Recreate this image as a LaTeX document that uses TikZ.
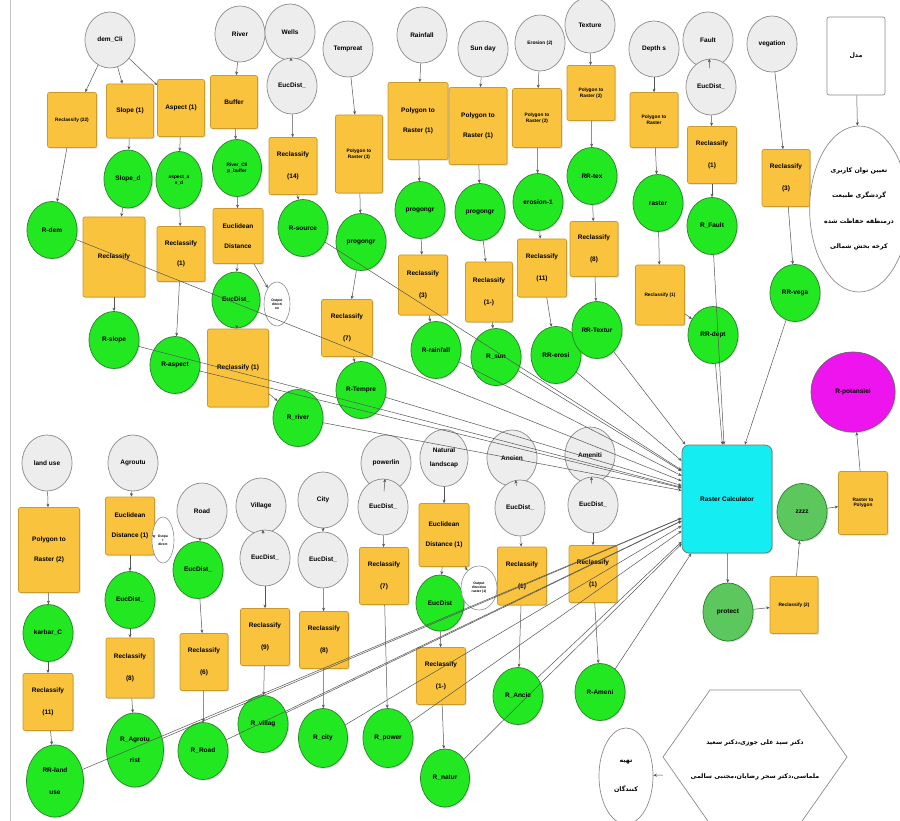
\documentclass[tikz,border=0pt]{standalone}
\usepackage{fontspec}
\setsansfont{Liberation Sans}
\newfontfamily\fa[Script=Arabic]{DejaVu Sans}
\TeXXeTstate=1
\usetikzlibrary{arrows.meta,shapes.geometric,shadows}
\definecolor{gfill}{HTML}{EDEDED}
\definecolor{gdraw}{HTML}{8C8C8C}
\definecolor{ofill}{HTML}{F9C33D}
\definecolor{odraw}{HTML}{C99A2E}
\definecolor{grfill}{HTML}{22E822}
\definecolor{grdraw}{HTML}{2E7F2E}
\definecolor{mgfill}{HTML}{5CC75C}
\definecolor{cyfill}{HTML}{14EEF2}
\definecolor{mafill}{HTML}{EE14EE}
\definecolor{edgec}{HTML}{555555}
\newcommand\labbig{\fontsize{6.5}{7.5}\selectfont\sffamily\bfseries}
\newcommand\labsmall{\fontsize{4.8}{5.6}\selectfont\sffamily\bfseries}
\newcommand\labtiny{\fontsize{3.4}{4}\selectfont\sffamily\bfseries}
\begin{document}
\begin{tikzpicture}[x=1pt,y=-1pt,
  wh/.style 2 args={minimum width=#1pt, minimum height=#2pt},
  shad/.style={drop shadow={shadow xshift=1.2pt,shadow yshift=-1.2pt,opacity=0.3}},
  gnode/.style={ellipse, draw=gdraw, fill=gfill, line width=0.7pt, wh={50}{56}, inner sep=0pt, align=center, font=\labbig},
  onode/.style={rectangle, rounded corners=2pt, draw=odraw, fill=ofill, line width=0.7pt, wh={48}{57}, inner sep=1pt, align=center, font=\labbig, shad},
  rnode/.style={ellipse, draw=grdraw, fill=grfill, line width=0.7pt, wh={50}{57}, inner sep=0pt, align=center, font=\labbig, shad},
  mnode/.style={rnode, fill=mgfill},
  wnode/.style={ellipse, draw=gdraw, fill=white, line width=0.6pt, inner sep=0pt, align=center, font=\labtiny},
  ed/.style={draw=edgec, line width=0.5pt, -{Stealth[length=3.5pt,width=3pt]}},
  fatext/.style={font=\fa\bfseries\fontsize{6.3}{7.5}\selectfont, align=center}
]
\useasboundingbox (0,0) rectangle (900,821);
\fill[white] (0,0) rectangle (900,821);
\draw[gray!45, line width=1pt] (10,0) -- (10,821);

% ---------- top gray inputs
\node[gnode] (demcli) at (110,40) {dem\_Cli};
\node[gnode] (river) at (240,34) {River};
\node[gnode] (wells) at (290,32) {Wells};
\node[gnode] (wellsed) at (292,86) {EucDist\_};
\node[gnode] (temp) at (348,49) {Tempreat};
\node[gnode] (rain) at (422,35) {Rainfall};
\node[gnode] (sun) at (483,49) {Sun day};
\node[gnode, font=\labsmall] (eros) at (540,43) {Erosion (2)};
\node[gnode] (texture) at (590,25) {Texture};
\node[gnode] (depth) at (654,49) {Depth s};
\node[gnode] (fault) at (708,40) {Fault};
\node[gnode] (faulted) at (711,87) {EucDist\_};
\node[gnode] (veg) at (772,44) {vegation};

% ---------- top orange tools
\node[onode, wh={49}{55}, font=\labsmall] (rc22) at (72,120) {Reclassify (22)};
\node[onode, wh={47}{54}] (slope) at (130,111) {Slope (1)};
\node[onode, wh={47}{57}] (aspect) at (181,108) {Aspect (1)};
\node[onode, wh={47}{53}] (buffer) at (234,102) {Buffer};
\node[onode] (rc14) at (293,166) {Reclassify\\[14pt](14)};
\node[onode, wh={47}{78}, font=\labsmall] (ptr3) at (359,154) {Polygon to\\Raster (3)};
\node[onode, wh={60}{77}] (ptrrain) at (418,121) {Polygon to\\[12pt]Raster (1)};
\node[onode, wh={58}{77}] (ptrsun) at (478,126) {Polygon to\\[12pt]Raster (1)};
\node[onode, wh={49}{59}, font=\labsmall] (ptreros) at (537,118) {Polygon to\\Raster (2)};
\node[onode, wh={48}{55}, font=\labsmall] (ptrtex) at (591,93) {Polygon to\\Raster (2)};
\node[onode, wh={48}{55}, font=\labsmall] (ptrdep) at (654,120) {Polygon to\\Raster};
\node[onode, wh={49}{57}] (rcfault) at (712,155) {Reclassify\\[14pt](1)};
\node[onode] (rcveg) at (786,178) {Reclassify\\[14pt](3)};

% ---------- top intermediate
\node[rnode, wh={48}{58}] (sloped) at (128,179) {Slope\_d};
\node[rnode, wh={46}{57}, font=\labsmall] (aspectd) at (179,180) {aspect\_a\\e\_d};
\node[rnode, wh={49}{57}, font=\labsmall] (riverbuf) at (237,168) {River\_Cli\\p\_buffer};
\node[onode, wh={62}{80}] (rcslope) at (114,257) {Reclassify};
\node[onode, wh={48}{55}] (rcaspect) at (181,254) {Reclassify\\[12pt](1)};
\node[onode, wh={50}{55}] (edriver) at (238,236) {Euclidean\\[12pt]Distance};
\node[rnode, wh={48}{56}] (eddriver) at (236,300) {EucDist\_};
\node[wnode, wh={26}{44}] (outriver) at (277,304) {Output\\directi\\on};
\node[onode, wh={61}{78}] (rcriver) at (238,368) {Reclassify (1)};
\node[rnode] (rdem) at (52,230) {R-dem};
\node[rnode] (rsource) at (303,228) {R-source};
\node[rnode] (rslope) at (114,340) {R-slope};
\node[rnode] (raspect) at (175,365) {R-aspect};
\node[rnode] (rriver) at (298,418) {R\_river};

\node[rnode] (progtemp) at (361,242) {progongr};
\node[onode, wh={51}{57}] (rctemp) at (347,328) {Reclassify\\[14pt](7)};
\node[rnode] (rtemp) at (361,390) {R-Tempre};
\node[rnode] (prograin) at (420,210) {progongr};
\node[rnode] (progsun) at (480,212) {progongr};
\node[rnode] (eros1) at (538,202) {erosion-1};
\node[rnode] (rrtex) at (592,176) {RR-tex};
\node[onode, wh={49}{60}] (rcrain) at (423,285) {Reclassify\\[14pt](3)};
\node[onode, wh={47}{60}] (rcsun) at (489,292) {Reclassify\\[14pt](1-)};
\node[onode, wh={49}{58}] (rceros) at (542,268) {Reclassify\\[14pt](11)};
\node[onode, wh={48}{55}] (rctex) at (594,249) {Reclassify\\[14pt](8)};
\node[rnode] (rrain) at (436,350) {R-rainfall};
\node[rnode] (rsun) at (496,357) {R\_sun};
\node[rnode] (rreros) at (556,355) {RR-erosi};
\node[rnode] (rrtextur) at (597,330) {RR-Textur};
\node[rnode] (raster) at (658,203) {raster};
\node[rnode] (rfault) at (712,226) {R\_Fault};
\node[onode, wh={49}{60}, font=\labsmall] (rcdep) at (660,295) {Reclassify (1)};
\node[rnode] (rrdept) at (713,335) {RR-dept};
\node[rnode] (rrveg) at (795,293) {RR-vega};

% ---------- right column
\node[rectangle, rounded corners=2pt, draw=gdraw, fill=white, line width=0.7pt, wh={58}{78}, fatext] (modelrect) at (856,56) {\beginR مدل\endR};
\node[ellipse, draw=gdraw, fill=white, line width=0.7pt, wh={84}{166}, inner sep=0pt, fatext] (goal) at (859,209)
  {\beginR تعیین توان کاربری\endR\\[18pt]\beginR گردشگری طبیعت\endR\\[18pt]\beginR درمنطقه حفاظت شده\endR\\[18pt]\beginR کرخه بخش شمالی\endR};
\node[ellipse, draw=black!60, fill=mafill, line width=0.7pt, wh={84}{80}, inner sep=0pt, font=\labbig, shad] (pot) at (853,392) {R-potansiel};
\node[rectangle, rounded corners=7pt, draw=black!55, fill=cyfill, line width=0.7pt, wh={90}{108}, font=\labbig, shad] (calc) at (727,499) {Raster Calculator};
\node[mnode] (zzzz) at (802,512) {zzzz};
\node[onode, wh={49}{63}, font=\labsmall] (rtp) at (863,503) {Raster to\\Polygon};
\node[mnode, wh={50}{58}] (protect) at (728,612) {protect};
\node[onode, wh={48}{57}, font=\labsmall] (rc2) at (794,605) {Reclassify (2)};

% ---------- bottom gray inputs
\node[gnode] (landuse) at (47,463) {land use};
\node[gnode] (agro) at (133,463) {Agroutu};
\node[gnode] (road) at (202,511) {Road};
\node[gnode] (village) at (261,506) {Village};
\node[gnode] (villageed) at (265,558) {EucDist\_};
\node[gnode] (city) at (323,500) {City};
\node[gnode] (cityed) at (323,560) {EucDist\_};
\node[gnode] (power) at (386,463) {powerlin};
\node[gnode] (powered) at (383,507) {EucDist\_};
\node[gnode, wh={48}{57}] (nat) at (444,458) {Natural\\[6pt]landscap};
\node[gnode] (anc) at (512,458) {Ancien};
\node[gnode] (anced) at (520,508) {EucDist\_};
\node[gnode] (amen) at (590,455) {Ameniti};
\node[gnode] (amened) at (593,505) {EucDist\_};

% ---------- bottom tools and results
\node[onode, wh={61}{85}] (ptrland) at (49,550) {Polygon to\\[12pt]Raster (2)};
\node[onode, wh={49}{58}] (edagro) at (130,526) {Euclidean\\[12pt]Distance (1)};
\node[wnode, wh={22}{46}] (outagro) at (163,540) {Outpu\\t\\direct};
\node[rnode] (edagrod) at (130,600) {EucDist\_};
\node[rnode] (roaded) at (198,570) {EucDist\_};
\node[rnode] (karbar) at (48,633) {karbar\_C};
\node[onode, wh={50}{57}] (rcland) at (48,702) {Reclassify\\[14pt](11)};
\node[onode, wh={48}{60}] (rcagro) at (130,668) {Reclassify\\[14pt](8)};
\node[onode] (rcroad) at (204,662) {Reclassify\\[14pt](6)};
\node[onode, wh={49}{57}] (rcvillage) at (265,637) {Reclassify\\[14pt](9)};
\node[onode, wh={49}{57}] (rccity) at (324,640) {Reclassify\\[14pt](8)};
\node[onode, wh={49}{57}] (rcpower) at (384,576) {Reclassify\\[14pt](7)};
\node[onode, wh={50}{63}] (ednat) at (444,535) {Euclidean\\[12pt]Distance (1)};
\node[rnode, wh={48}{56}] (ednatd) at (440,603) {EucDist};
\node[wnode, wh={36}{44}] (outnat) at (479,588) {Output\\direction\\raster (1)};
\node[onode, wh={49}{57}] (rcnat) at (441,676) {Reclassify\\[14pt](1-)};
\node[onode, wh={49}{58}] (rcanc) at (522,576) {Reclassify\\[14pt](1)};
\node[onode] (rcamen) at (593,574) {Reclassify\\[14pt](1)};
\node[rnode, wh={57}{72}] (rrland) at (55,781) {RR-land\\[14pt]use};
\node[rnode, wh={57}{74}] (ragro) at (135,750) {R\_Agrotu\\[14pt]rist};
\node[rnode] (rroad) at (203,751) {R\_Road};
\node[rnode] (rvillage) at (263,724) {R\_villag};
\node[rnode, wh={49}{59}] (rcity) at (323,738) {R\_city};
\node[rnode, wh={50}{59}] (rpower) at (388,738) {R\_power};
\node[rnode, wh={49}{58}] (rnat) at (445,778) {R\_natur};
\node[rnode] (ranc) at (518,696) {R\_Ancie};
\node[rnode] (ramen) at (600,692) {R-Ameni};

% ---------- authors
\draw[draw=gdraw, fill=white, line width=0.7pt] (663,757) -- (710,690) -- (800,690) -- (847,757) -- (800,824) -- (710,824) -- cycle;
\coordinate (hexW) at (663,775);
\node[fatext] (authors) at (755,760) {\beginR دکتر سید علی جوزی،دکتر سعید\endR\\[26pt]\beginR ملماسی،دکتر سحر رضایان،مجتبی سالمی\endR};
\node[ellipse, draw=gdraw, fill=white, line width=0.7pt, wh={54}{96}, inner sep=0pt, fatext] (tahieh) at (626,776) {\beginR تهیه\endR\\[22pt]\beginR کنندگان\endR};

% ---------- chains
\foreach \a/\b in {demcli/rc22, demcli/slope, demcli/aspect, rc22/rdem,
  slope/sloped, sloped/rcslope, rcslope/rslope,
  aspect/aspectd, aspectd/rcaspect, rcaspect/raspect,
  river/buffer, buffer/riverbuf, riverbuf/edriver, edriver/eddriver, edriver/outriver, eddriver/rcriver, rcriver/rriver,
  wells/wellsed, wellsed/rc14, rc14/rsource,
  temp/ptr3, ptr3/progtemp, progtemp/rctemp, rctemp/rtemp,
  rain/ptrrain, ptrrain/prograin, prograin/rcrain, rcrain/rrain,
  sun/ptrsun, ptrsun/progsun, progsun/rcsun, rcsun/rsun,
  eros/ptreros, ptreros/eros1, eros1/rceros, rceros/rreros,
  texture/ptrtex, ptrtex/rrtex, rrtex/rctex, rctex/rrtextur,
  depth/ptrdep, ptrdep/raster, raster/rcdep, rcdep/rrdept,
  fault/faulted, faulted/rcfault, rcfault/rfault,
  veg/rcveg, rcveg/rrveg,
  landuse/ptrland, ptrland/karbar, karbar/rcland, rcland/rrland,
  agro/edagro, edagro/outagro, edagro/edagrod, edagrod/rcagro, rcagro/ragro,
  road/roaded, roaded/rcroad, rcroad/rroad,
  village/villageed, villageed/rcvillage, rcvillage/rvillage,
  city/cityed, cityed/rccity, rccity/rcity,
  power/powered, powered/rcpower, rcpower/rpower,
  nat/ednat, ednat/ednatd, ednat/outnat, ednatd/rcnat, rcnat/rnat,
  anc/anced, anced/rcanc, rcanc/ranc,
  amen/amened, amened/rcamen, rcamen/ramen,
  calc/protect, protect/rc2, rc2/zzzz, zzzz/rtp, rtp/pot,
  modelrect/goal}
  \draw[ed] (\a) -- (\b);
\draw[ed] (hexW) -- (tahieh);

% ---------- into Raster Calculator
\foreach \a in {rdem, rslope, raspect, rriver, rsource, rtemp, rrain, rsun, rreros, rrtextur, rfault, rrdept, rrveg,
  rrland, ragro, rroad, rvillage, rcity, rpower, rnat, ranc, ramen}
  \draw[ed] (\a) -- (calc);
\end{tikzpicture}
\end{document}
